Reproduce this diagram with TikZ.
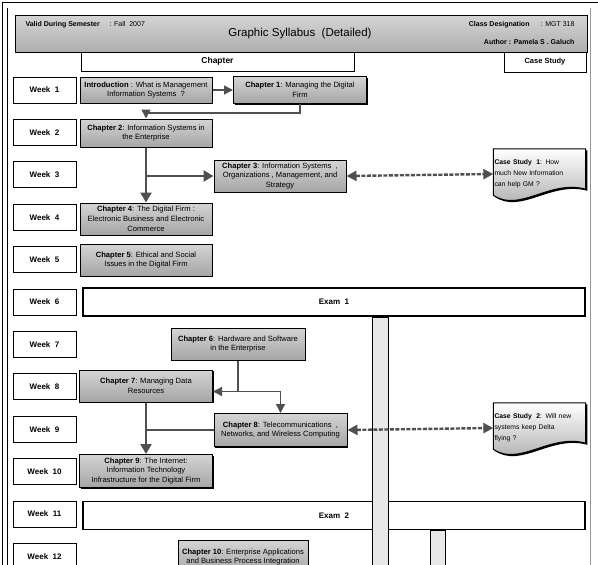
\documentclass[tikz,border=0pt]{standalone}
\usepackage{fontspec}
\setmainfont{Liberation Sans}
\usetikzlibrary{shapes.geometric, arrows.meta, positioning, calc, shadows}
\definecolor{boxlight}{RGB}{212,212,212}
\definecolor{boxdark}{RGB}{165,165,165}
\definecolor{linkgray}{RGB}{80,80,80}
\definecolor{framegray}{RGB}{150,150,150}
\tikzset{
  weekbox/.style={draw=black, line width=0.9pt, fill=white, minimum width=63pt, minimum height=26pt,
    font=\bfseries\fontsize{8}{9}\selectfont},
  chapbox/.style={draw=black, line width=1pt, top color=boxlight, bottom color=boxdark, align=center,
    inner sep=1pt, font=\fontsize{7.6}{9.8}\selectfont,
    drop shadow={shadow xshift=1.3pt, shadow yshift=-1.3pt, opacity=1, fill=black}},
  exambox/.style={draw=black, line width=1.8pt, fill=white, minimum width=502pt, minimum height=28pt,
    font=\bfseries\fontsize{8}{9}\selectfont},
  casetext/.style={minimum width=92pt, minimum height=50pt, text width=90pt, align=left, inner sep=0.5pt,
    font=\fontsize{6.8}{11}\selectfont},
  casedoc/.style={draw=black, line width=1pt, top color=white, bottom color=boxdark,
    drop shadow={shadow xshift=1.6pt, shadow yshift=-1.6pt, opacity=1, fill=black}},
  headcell/.style={draw=black, line width=0.9pt, fill=white, font=\bfseries\fontsize{8.5}{9}\selectfont},
  tip/.style={-{Triangle[length=9pt, width=9pt]}},
  flowarrow/.style={draw=linkgray, line width=1.3pt, tip},
  flowline/.style={draw=linkgray, line width=1.1pt},
  thickarrow/.style={draw=linkgray, line width=2.6pt, -{Triangle[length=10pt, width=11pt]}},
  casearrow/.style={draw=linkgray, line width=2.4pt, dash pattern=on 4pt off 1.5pt,
    {Triangle[length=10pt, width=10pt]}-{Triangle[length=10pt, width=10pt]}},
  barfill/.style={draw=black, line width=0.6pt, fill=gray!18},
}

\begin{document}
\begin{tikzpicture}[x=1pt, y=-1pt]
    \useasboundingbox (0,0) rectangle (598,565);
    \clip (0,0) rectangle (598,565);
    \fill[white] (0,0) rectangle (598,565);

    % Frame
    \draw[line width=0.7pt] (2,565) -- (2,2) -- (598,2);
    \draw[line width=0.7pt] (7,565) -- (7,8);
    \draw[framegray, line width=0.7pt] (590,8) -- (590,565);

    % Header
    \node[draw=black, line width=1pt, top color=boxlight, bottom color=boxdark!90, minimum width=572pt,
      minimum height=37pt, drop shadow={shadow xshift=1pt, shadow yshift=-1pt, opacity=1, fill=black}]
      (head) at (301,33.5) {};
    \node[anchor=west, font=\fontsize{7}{8}\selectfont] (semester) at (22,25)
      {\textbf{Valid During Semester}\hspace{1.4em}: Fall\ \ 2007};
    \node[font=\fontsize{11.5}{13}\selectfont] (title) at (300,34) {Graphic Syllabus\ \ (Detailed)};
    \node[anchor=east, font=\fontsize{7}{8}\selectfont] (classdes) at (578,25)
      {\textbf{Class Designation}\hspace{1.6em}: MGT 318};
    \node[anchor=east, font=\bfseries\fontsize{7}{8}\selectfont] (author) at (578,42)
      {Author : Pamela S . Galuch};

    % Column heads
    \node[headcell, minimum width=273pt, minimum height=19pt] (chaphead) at (217.5,61.5) {Chapter};
    \node[headcell, minimum width=82pt, minimum height=20pt, font=\bfseries\fontsize{7.5}{8}\selectfont]
      (casehead) at (545,62) {Case Study};

    % Weeks
    \foreach \w in {1,...,12}
        \node[weekbox] (week\w) at (44.5,{90+(\w-1)*42.4}) {Week\ \ \w};

    % Chapters
    \node[chapbox, minimum width=132pt, minimum height=26pt] (intro) at (146,90)
      {\textbf{Introduction} : What is Management\\Information Systems\ \ ?};
    \node[chapbox, minimum width=133pt, minimum height=27pt] (ch1) at (300,90)
      {\textbf{Chapter 1}: Managing the Digital\\Firm};
    \node[chapbox, minimum width=132pt, minimum height=28pt] (ch2) at (146,133)
      {\textbf{Chapter 2}: Information Systems in\\the Enterprise};
    \node[chapbox, minimum width=132pt, minimum height=32pt] (ch3) at (280,176)
      {\textbf{Chapter 3}: Information Systems\ \ ,\\Organizations , Management, and\\Strategy};
    \node[chapbox, minimum width=132pt, minimum height=32pt] (ch4) at (146,219)
      {\textbf{Chapter 4}: The Digital Firm :\\Electronic Business and Electronic\\Commerce};
    \node[chapbox, minimum width=132pt, minimum height=32pt] (ch5) at (146,260)
      {\textbf{Chapter 5}: Ethical and Social\\Issues in the Digital Firm};
    \node[chapbox, minimum width=134pt, minimum height=32pt] (ch6) at (238,344)
      {\textbf{Chapter 6}: Hardware and Software\\in the Enterprise};
    \node[chapbox, minimum width=133pt, minimum height=32pt] (ch7) at (146,386)
      {\textbf{Chapter 7}: Managing Data\\Resources};
    \node[chapbox, minimum width=133pt, minimum height=33pt] (ch8) at (280.5,430)
      {\textbf{Chapter 8}: Telecommunications\ \ ,\\Networks, and Wireless Computing};
    \node[chapbox, minimum width=133pt, minimum height=33pt] (ch9) at (146,471)
      {\textbf{Chapter 9}: The Internet:\\Information Technology\\Infrastructure for the Digital Firm};
    \node[chapbox, minimum width=130pt, minimum height=34pt] (ch10) at (243,557)
      {\textbf{Chapter 10}: Enterprise Applications\\and Business Process Integration};

    % Exams
    \node[exambox] (exam1) at (334,302) {Exam\ \ 1};
    \node[exambox] (exam2) at (334,515.5) {Exam\ \ 2};

    % Time bars
    \draw[barfill] (372,317) rectangle (388,570);
    \draw[barfill] (430,530) rectangle (445,570);

    % Case studies
    \node[casetext] (cs1) at (539.5,174) {};
    \draw[casedoc] ($(cs1.south east)+(0,-10)$) -- (cs1.north east) -- (cs1.north west)
      -- ($(cs1.south west)+(0,-4)$) .. controls +(26,18) and +(-36,-10) .. ($(cs1.south east)+(0,-10)$) -- cycle;
    \node[casetext] at (cs1) {\textbf{Case Study\ \ 1}: How\\much New Information\\can help GM ?};
    \node[casetext] (cs2) at (539.5,428) {};
    \draw[casedoc] ($(cs2.south east)+(0,-10)$) -- (cs2.north east) -- (cs2.north west)
      -- ($(cs2.south west)+(0,-4)$) .. controls +(26,18) and +(-36,-10) .. ($(cs2.south east)+(0,-10)$) -- cycle;
    \node[casetext] at (cs2) {\textbf{Case Study\ \ 2}: Will new\\systems keep Delta\\flying ?};

    % Flow
    \draw[flowarrow] (intro) -- (ch1);
    \draw[flowarrow] (ch1.south) -- ++(0,9) -| (ch2.north);
    \draw[thickarrow] (ch2.south) -- (ch4.north);
    \draw[thickarrow] (ch2.south |- ch3.west) -- (ch3.west);
    \draw[casearrow] (ch3.east) -- (cs1.west);
    \coordinate (split6) at ($(ch6.south)+(0,31)$);
    \draw[flowline] (ch6.south) -- (split6);
    \draw[flowarrow] (split6) -- (ch7.east |- split6);
    \draw[flowarrow] (split6) -| (ch8.north);
    \draw[thickarrow] (ch7.south) -- (ch9.north);
    \draw[flowline] (ch8.west) -- (ch7.south |- ch8.west);
    \draw[casearrow] (ch8.east) -- (cs2.west);
\end{tikzpicture}
\end{document}
